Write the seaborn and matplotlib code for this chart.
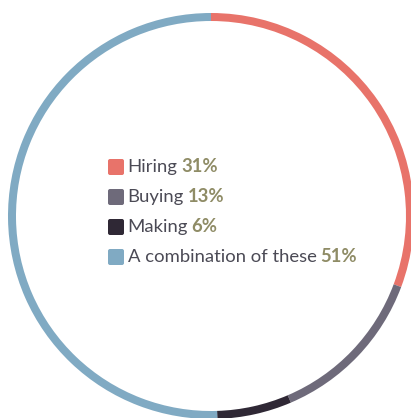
import matplotlib
matplotlib.use("Agg")
import matplotlib.pyplot as plt
from matplotlib.patches import FancyBboxPatch
import seaborn as sns

categories = ["Hiring", "Buying", "Making", "A combination of these"]
values = [31, 13, 6, 51]
pct_labels = ["31%", "13%", "6%", "51%"]
colors = ["#e8736a", "#6e6a7a", "#2f2835", "#80aac3"]

sns.set_theme(style="white")
plt.rcParams["font.family"] = ["Lato", "DejaVu Sans"]

W, H = 411, 418
fig = plt.figure(figsize=(W / 100, H / 100), dpi=100)
cx, cy, R = 211, 216, 203
ax = fig.add_axes([(cx - R) / W, (H - cy - R) / H, 2 * R / W, 2 * R / H])
ax.set_xlim(-1, 1)
ax.set_ylim(-1, 1)
ax.set_aspect("equal")
ax.axis("off")

ax.pie(values, colors=colors, startangle=90, counterclock=False, radius=1,
       wedgeprops=dict(width=8 / R, linewidth=0))
ax.set_xlim(-1, 1)
ax.set_ylim(-1, 1)

fax = fig.add_axes([0, 0, 1, 1])
fax.set_xlim(0, W)
fax.set_ylim(H, 0)
fax.axis("off")

row_y = [167, 197, 227, 257]
for cat, pct, col, y in zip(categories, pct_labels, colors, row_y):
    fax.add_patch(FancyBboxPatch((108, y - 8), 16, 16,
                                 boxstyle="round,pad=0,rounding_size=2",
                                 facecolor=col, edgecolor="none"))
    t = fax.text(127.5, y, cat, fontsize=13.3, color="#4b4a55",
                 ha="left", va="center")
    fax.annotate(pct, xy=(1, 0), xycoords=t, xytext=(2.5, 0),
                 textcoords="offset points", fontsize=13.3,
                 fontweight="bold", color="#8f8c66", ha="left", va="bottom")

fig.savefig("out.png", dpi=100, facecolor="white")
